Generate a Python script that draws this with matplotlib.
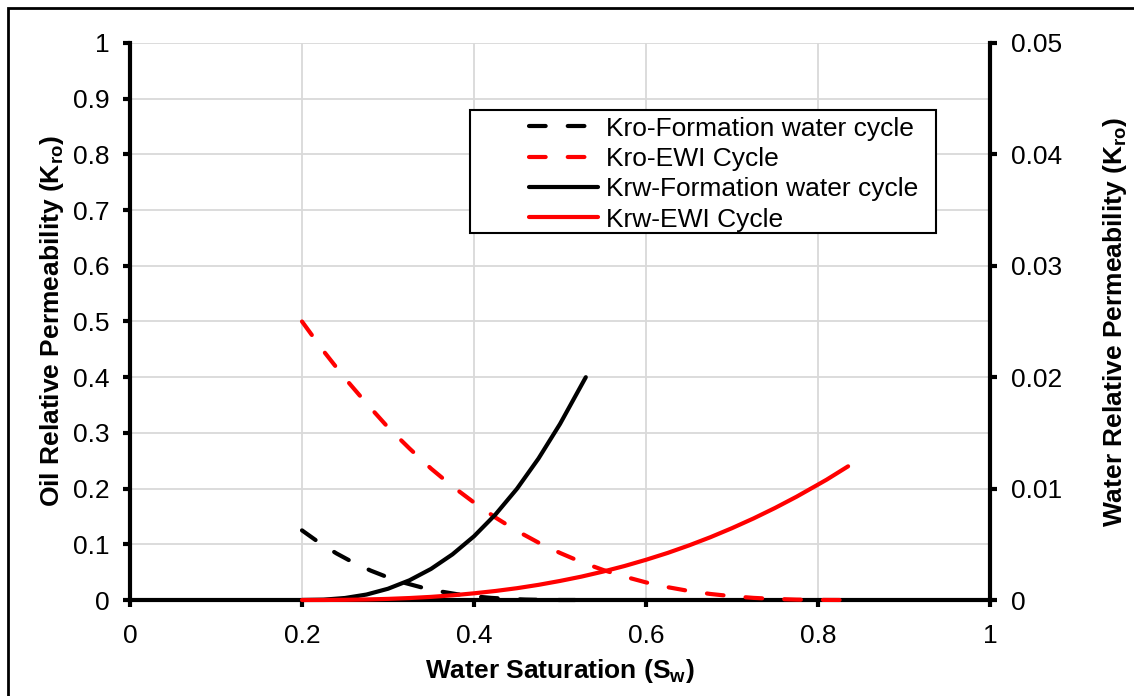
import matplotlib
matplotlib.use('Agg')
import matplotlib.pyplot as plt
from matplotlib.lines import Line2D
from matplotlib.patches import Rectangle

plt.rcParams['font.family'] = ['Liberation Sans', 'DejaVu Sans']
plt.rcParams['mathtext.fontset'] = 'custom'
plt.rcParams['mathtext.rm'] = 'Liberation Sans'
plt.rcParams['mathtext.bf'] = 'Liberation Sans:bold'

# oil relative permeability, formation water cycle (left axis)
sw_kro_fw = [0.20, 0.22, 0.24, 0.26, 0.28, 0.30, 0.32, 0.34, 0.36, 0.38,
             0.40, 0.42, 0.44, 0.46, 0.48, 0.50, 0.52]
kro_fw = [0.125, 0.103, 0.0837, 0.067, 0.0527, 0.0406, 0.0305, 0.0222, 0.0156,
          0.0105, 0.0066, 0.0038, 0.002, 0.0008, 0.0002, 0.0, 0.0]

# oil relative permeability, EWI cycle (left axis)
sw_kro_ewi = [0.200, 0.225, 0.250, 0.275, 0.300, 0.325, 0.350, 0.375, 0.400,
              0.425, 0.450, 0.475, 0.500, 0.525, 0.550, 0.575, 0.600, 0.625,
              0.650, 0.675, 0.700, 0.725, 0.750, 0.775, 0.800, 0.835]
kro_ewi = [0.5, 0.447, 0.398, 0.353, 0.31, 0.272, 0.236, 0.204, 0.175,
           0.148, 0.124, 0.103, 0.0845, 0.068, 0.054, 0.042, 0.0316, 0.0231,
           0.0162, 0.0108, 0.0068, 0.0038, 0.0019, 0.0007, 0.0002, 0.0]

# water relative permeability, formation water cycle (right axis)
sw_krw_fw = [0.200, 0.225, 0.250, 0.275, 0.300, 0.325, 0.350, 0.375, 0.400,
             0.425, 0.450, 0.475, 0.500, 0.530]
krw_fw = [0.0, 0.00003, 0.00018, 0.00049, 0.00101, 0.00177, 0.00279, 0.0041,
          0.00572, 0.00768, 0.00999, 0.0127, 0.0158, 0.02]

# water relative permeability, EWI cycle (right axis)
sw_krw_ewi = [0.200, 0.225, 0.250, 0.275, 0.300, 0.325, 0.350, 0.375, 0.400,
              0.425, 0.450, 0.475, 0.500, 0.525, 0.550, 0.575, 0.600, 0.625,
              0.650, 0.675, 0.700, 0.725, 0.750, 0.775, 0.800, 0.810, 0.835]
krw_ewi = [0.0, 0.000003, 0.000016, 0.000046, 0.0001, 0.000176, 0.00028,
           0.00042, 0.0006, 0.00081, 0.00106, 0.00136, 0.00171, 0.0021,
           0.00255, 0.00305, 0.00361, 0.00422, 0.0049, 0.00564, 0.00645,
           0.00732, 0.00826, 0.00927, 0.01036, 0.0108, 0.012]

x_ticks = [0, 0.2, 0.4, 0.6, 0.8, 1]
x_labels = ['0', '0.2', '0.4', '0.6', '0.8', '1']
left_ticks = [0, 0.1, 0.2, 0.3, 0.4, 0.5, 0.6, 0.7, 0.8, 0.9, 1]
left_labels = ['0', '0.1', '0.2', '0.3', '0.4', '0.5', '0.6', '0.7', '0.8', '0.9', '1']
right_ticks = [0, 0.01, 0.02, 0.03, 0.04, 0.05]
right_labels = ['0', '0.01', '0.02', '0.03', '0.04', '0.05']

legend_labels = ['Kro-Formation water cycle', 'Kro-EWI Cycle',
                 'Krw-Formation water cycle', 'Krw-EWI Cycle']

FS = 19
LW = 3.0
DASH = (4, 5.3)

fig = plt.figure(figsize=(11.34, 6.96), dpi=100)
ax = fig.add_axes([130 / 1134, 1 - 600 / 696, 860 / 1134, 557 / 696])
ax2 = ax.twinx()

# outer frame of the chart area
fig.patches.append(Rectangle((8 / 1134, -0.05), 1.1, 1 - 8 / 696 + 0.05,
                             transform=fig.transFigure, fill=False,
                             edgecolor='black', linewidth=2, zorder=0))

ax.plot(sw_kro_fw, kro_fw, color='black', lw=LW, dashes=DASH,
        dash_capstyle='round', clip_on=False, zorder=3)
ax.plot(sw_kro_ewi, kro_ewi, color='#ff0000', lw=LW, dashes=DASH,
        dash_capstyle='round', clip_on=False, zorder=3)
ax2.plot(sw_krw_fw, krw_fw, color='black', lw=LW, solid_capstyle='round',
         clip_on=False, zorder=3)
ax2.plot(sw_krw_ewi, krw_ewi, color='#ff0000', lw=LW, solid_capstyle='round',
         clip_on=False, zorder=3)

ax.set_xlim(0, 1)
ax.set_ylim(0, 1)
ax2.set_ylim(0, 0.05)

ax.set_xticks(x_ticks)
ax.set_xticklabels(x_labels, fontsize=FS)
ax.set_yticks(left_ticks)
ax.set_yticklabels(left_labels, fontsize=FS)
ax2.set_yticks(right_ticks)
ax2.set_yticklabels(right_labels, fontsize=FS)

ax.grid(True, color='#d9d9d9', lw=1.3)
ax.set_axisbelow(True)

for a in (ax, ax2):
    a.spines['top'].set_visible(False)
    for s in ('left', 'right', 'bottom'):
        a.spines[s].set_linewidth(3)
        a.spines[s].set_color('black')
ax.spines['right'].set_visible(False)
ax2.spines['left'].set_visible(False)
ax2.spines['bottom'].set_visible(False)

ax.tick_params(axis='both', direction='out', length=5, width=3, pad=10)
ax.tick_params(axis='x', pad=12)
ax2.tick_params(axis='y', direction='out', length=5, width=3, pad=10)

ax.set_xlabel(r'Water Saturation (S$_\mathbf{w}$)', fontsize=FS,
              fontweight='bold', labelpad=7)
ax.set_ylabel(r'Oil Relative Permeability (K$_\mathbf{ro}$)', fontsize=FS,
              fontweight='bold', labelpad=5)
ax2.set_ylabel(r'Water Relative Permeability (K$_\mathbf{ro}$)', fontsize=FS,
               fontweight='bold', labelpad=28)

# legend with a plain square box
handles = [
    Line2D([], [], color='black', lw=LW, dashes=DASH, dash_capstyle='round'),
    Line2D([], [], color='#ff0000', lw=LW, dashes=DASH, dash_capstyle='round'),
    Line2D([], [], color='black', lw=LW, solid_capstyle='round'),
    Line2D([], [], color='#ff0000', lw=LW, solid_capstyle='round'),
]
ax2.add_patch(Rectangle((0.395, 0.659), 0.542, 0.221, transform=ax2.transAxes,
                        facecolor='white', edgecolor='black', lw=1.5,
                        zorder=4, clip_on=False))
leg = ax2.legend(handles, legend_labels, loc='upper left',
                 bbox_to_anchor=(0.464, 0.868), frameon=False, fontsize=FS,
                 handlelength=2.6, handletextpad=0.3, labelspacing=0.24,
                 borderpad=0, borderaxespad=0)
leg.set_zorder(5)

fig.savefig('out.png', dpi=100)
